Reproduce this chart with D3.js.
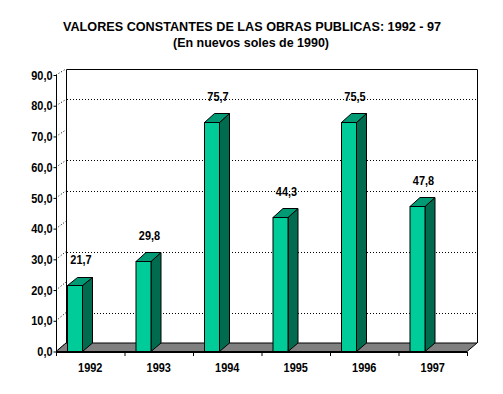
<!DOCTYPE html>
<html>
<head>
<meta charset="utf-8">
<script src="https://cdn.jsdelivr.net/npm/d3@7"></script>
<style>
  body { margin: 0; background: #fff; }
  text { font-family: "Liberation Sans", Arial, sans-serif; fill: #000; }
</style>
</head>
<body>
<svg id="chart" width="503" height="394"></svg>
<script>
// Data
var years = ['1992', '1993', '1994', '1995', '1996', '1997'];
var values = [21.7, 29.8, 75.7, 44.3, 75.5, 47.8];
var yTicks = [0, 10, 20, 30, 40, 50, 60, 70, 80, 90];
// the back wall only shows some of the gridlines
var gridValues = [10, 30, 50, 60, 80];

var svg = d3.select('#chart');

// Depth offset of the 3D effect
var dx = 10;

// Axis scale (front), bar scale and back wall scale
var yFront = d3.scaleLinear().domain([0, 90]).range([351.5, 75]);
var yBar = d3.scaleLinear().domain([0, 90]).range([351, 78.3]);
var yBack = d3.scaleLinear().domain([0, 90]).range([343, 69]);

// Category bands along the front edge
var x = d3.scaleBand().domain(years).range([56, 467]).padding(0);

var fmt = function(v) { return d3.format('.1f')(v).replace('.', ','); };

// Squeeze text horizontally to mimic the narrow font of the original
function condense(sel, ratio) {
    sel.each(function() {
        var len = this.getComputedTextLength();
        d3.select(this)
            .attr('textLength', len * ratio)
            .attr('lengthAdjust', 'spacingAndGlyphs');
    });
}

// Title
svg.append('text')
    .attr('x', 252).attr('y', 31)
    .attr('text-anchor', 'middle')
    .attr('font-size', '13px')
    .attr('font-weight', 'bold')
    .attr('textLength', 378)
    .attr('lengthAdjust', 'spacingAndGlyphs')
    .text('VALORES CONSTANTES DE LAS OBRAS PUBLICAS: 1992 - 97');
svg.append('text')
    .attr('x', 251).attr('y', 47)
    .attr('text-anchor', 'middle')
    .attr('font-size', '13px')
    .attr('font-weight', 'bold')
    .attr('textLength', 156)
    .attr('lengthAdjust', 'spacingAndGlyphs')
    .text('(En nuevos soles de 1990)');

// Back wall
var x0 = x.range()[0], x1 = x.range()[1];
svg.append('path')
    .attr('d', 'M' + (x0 + dx + 0.5) + ',' + yBack(0) + 'V' + (yBack(90) + 0.5) +
        'H' + (x1 + dx + 0.5) + 'V' + yBack(0))
    .attr('fill', 'none')
    .attr('stroke', '#000');

// Dotted gridlines on the wall
svg.append('g').selectAll('line')
    .data(gridValues)
    .enter()
    .append('line')
    .attr('x1', x0 + dx + 1).attr('x2', x1 + dx)
    .attr('y1', function(d) { return Math.round(yBack(d)) + 0.5; })
    .attr('y2', function(d) { return Math.round(yBack(d)) + 0.5; })
    .attr('stroke', '#000')
    .attr('stroke-dasharray', '1,2');

// Floor
svg.append('path')
    .attr('d', 'M' + x0 + ',' + yFront(0) + 'L' + x1 + ',' + yFront(0) +
        'L' + (x1 + dx) + ',' + yBack(0) + 'L' + (x0 + dx) + ',' + yBack(0) + 'Z')
    .attr('fill', '#808080')
    .attr('stroke', '#000');

// Diagonal tick lines from the axis to the wall
svg.append('g').selectAll('line')
    .data(yTicks)
    .enter()
    .append('line')
    .attr('x1', x0).attr('x2', x0 + dx)
    .attr('y1', function(d) { return yFront(d); })
    .attr('y2', function(d) { return yBack(d); })
    .attr('stroke', '#000')
    .attr('stroke-dasharray', '1,2');

// Y axis
var yAxis = d3.axisLeft(yFront)
    .tickValues(yTicks)
    .tickFormat(fmt)
    .tickSize(3)
    .tickPadding(1);
var gy = svg.append('g')
    .attr('transform', 'translate(' + (x0 + 0.5) + ',0)')
    .call(yAxis);
gy.select('.domain').attr('d', 'M0,' + yFront(90) + 'V' + (yFront(0) + 1));
gy.selectAll('text')
    .attr('font-size', '13px')
    .attr('font-weight', 'bold')
    .attr('font-family', '"Liberation Sans", Arial, sans-serif')
    .call(condense, 0.84);

// X axis with ticks at the category boundaries
svg.append('line')
    .attr('x1', x0).attr('x2', x1)
    .attr('y1', 352.5).attr('y2', 352.5)
    .attr('stroke', '#000');
svg.append('g').selectAll('line')
    .data(years.concat(['end']))
    .enter()
    .append('line')
    .attr('x1', function(d) { return (d === 'end' ? x1 : x(d)) + 0.5; })
    .attr('x2', function(d) { return (d === 'end' ? x1 : x(d)) + 0.5; })
    .attr('y1', 352).attr('y2', 356)
    .attr('stroke', '#000');
svg.append('g').selectAll('text')
    .data(years)
    .enter()
    .append('text')
    .attr('x', function(d) { return x(d) + x.bandwidth() / 2; })
    .attr('y', 372)
    .attr('text-anchor', 'middle')
    .attr('font-size', '13px')
    .attr('font-weight', 'bold')
    .text(function(d) { return d; })
    .call(condense, 0.84);

// Bars
var barOffset = 11, barWidth = 15;
var bars = svg.append('g').selectAll('g.bar')
    .data(years)
    .enter()
    .append('g')
    .classed('bar', true);

bars.each(function(d, i) {
    var g = d3.select(this),
        v = values[i],
        left = x(d) + barOffset + 0.5,
        right = left + barWidth,
        top = Math.round(yBar(v)) + 0.5,
        topBack = Math.round(yBack(v)) + 0.5,
        bottom = yFront(0),
        bottomBack = yBack(0);

    // side face
    g.append('path')
        .attr('d', 'M' + right + ',' + top + 'L' + (right + dx) + ',' + topBack +
            'L' + (right + dx) + ',' + bottomBack + 'L' + right + ',' + bottom + 'Z')
        .attr('fill', '#006B4F')
        .attr('stroke', '#000');
    // top face
    g.append('path')
        .attr('d', 'M' + left + ',' + top + 'L' + (left + dx) + ',' + topBack +
            'L' + (right + dx) + ',' + topBack + 'L' + right + ',' + top + 'Z')
        .attr('fill', '#009B74')
        .attr('stroke', '#000');
    // front face
    g.append('rect')
        .attr('x', left).attr('y', top)
        .attr('width', barWidth)
        .attr('height', bottom - top)
        .attr('fill', '#00CC99')
        .attr('stroke', '#000');
    // value label
    g.append('text')
        .attr('x', x(d) + barOffset + 14)
        .attr('y', yBar(v) - 21)
        .attr('text-anchor', 'middle')
        .attr('font-size', '13px')
        .attr('font-weight', 'bold')
        .text(fmt(v))
        .call(condense, 0.84);
});
</script>
</body>
</html>
